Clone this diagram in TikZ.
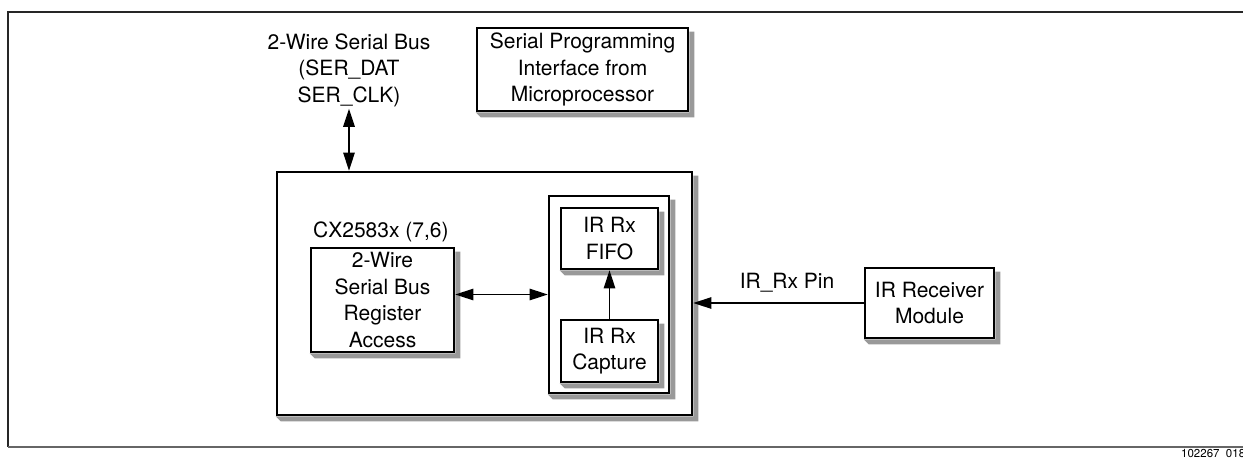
\documentclass[tikz,border=0pt]{standalone}
\usepackage{fontspec}
\setmainfont{TeX Gyre Heros}
\usetikzlibrary{arrows.meta}
\definecolor{shadowgray}{gray}{0.6}
% L-shaped drop shadow below and to the right of a named box
\newcommand\boxshadow[1]{%
  \fill[shadowgray] ([yshift=-5pt]#1.north east) -- ([shift={(5pt,-5pt)}]#1.north east)
    -- ([shift={(5pt,-5pt)}]#1.south east) -- ([shift={(5pt,-5pt)}]#1.south west)
    -- (#1.south west) -- (#1.south east) -- cycle;}
\begin{document}
\begin{tikzpicture}[x=1pt,y=-1pt,
  txt/.style={font=\fontsize{21}{26.5}\selectfont, align=center, inner sep=0pt},
  blk/.style={txt, draw=black, line width=2.7pt, fill=white},
  link/.style={line width=1.3pt, -{Triangle[length=18pt,width=11.5pt]}},
  dlink/.style={line width=1.3pt,
    {Triangle[length=18pt,width=11.5pt]}-{Triangle[length=18pt,width=11.5pt]}},
]
\useasboundingbox (0,0) rectangle (1243,458);

% page frame
\coordinate (ftl) at (8,12);
\coordinate (ftr) at (1243,12);
\coordinate (fbl) at (8,447);
\coordinate (fbr) at (1243,447);
\draw[line width=1.8pt, black!85] (ftr) -- (ftl) -- (fbl);
\draw[line width=2.2pt, black!60] (fbl) -- (fbr);

% top labels and boxes
\node[txt] (bus) at (349,70) {2-Wire Serial Bus\\(SER\_DAT\\SER\_CLK)};
\node[blk, minimum width=211pt, minimum height=83pt] (spi) at (582.5,69.5)
  {Serial Programming\\Interface from\\Microprocessor};
\boxshadow{spi}

% chip
\node[blk, minimum width=415pt, minimum height=243pt] (chip) at (484.5,293.5) {};
\boxshadow{chip}
\node[txt, anchor=west] (chiplbl) at (313,232) {CX2583x (7,6)};
\node[blk, minimum width=143pt, minimum height=104pt] (reg) at (382.5,300)
  {2-Wire\\Serial Bus\\Register\\Access};
\boxshadow{reg}
\node[blk, minimum width=120pt, minimum height=197pt] (ir) at (609,294.5) {};
\boxshadow{ir}
\node[blk, minimum width=97pt, minimum height=61pt] (fifo) at (609.5,238.5) {IR Rx\\FIFO};
\boxshadow{fifo}
\node[blk, minimum width=97pt, minimum height=62pt] (cap) at (609.5,351) {IR Rx\\Capture};
\boxshadow{cap}

% receiver module
\node[blk, minimum width=129pt, minimum height=70pt] (irm) at (929.5,303) {IR Receiver\\Module};
\boxshadow{irm}

% connectors
\draw[dlink] (bus.south) ++(0,2) -- (bus.south |- chip.north);
\draw[dlink] (ir.west -| reg.east) -- (ir.west);
\draw[link] (cap.north) -- (fifo.south);
\draw[link] (irm.west) -- (irm.west -| chip.east)
  node[txt, pos=0.45, above=10pt] (pinlbl) {IR\_Rx Pin};

% figure number
\node[anchor=base west, font=\fontsize{11.5}{12}\selectfont, inner sep=0pt] (figid)
  at (1181,457) {102267\_018};
\end{tikzpicture}
\end{document}
